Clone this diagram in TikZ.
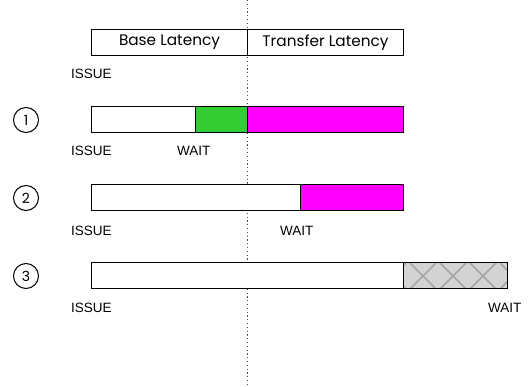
\documentclass[tikz,border=0pt]{standalone}
\usepackage{fontspec}
\setmainfont{Poppins}
\newfontfamily\lblfont{Liberation Sans}
\definecolor{grn}{HTML}{33CC33}
\definecolor{mag}{HTML}{FF00FF}
\definecolor{hgray}{HTML}{D3D3D3}
\begin{document}
\begin{tikzpicture}[x=1pt,y=-1pt,
  box/.style={draw=black,line width=1pt},
  hdr/.style={font=\fontsize{15.3}{17}\selectfont},
  lbl/.style={anchor=west,inner sep=0pt,font=\lblfont\fontsize{13.5}{15}\selectfont},
  num/.style={circle,draw=black,line width=1pt,minimum size=25pt,inner sep=0pt,font=\fontsize{14}{16}\selectfont},
  sep/.style={draw=black!70,line width=0.9pt,dash pattern=on 1.2pt off 2.6pt}]
\useasboundingbox (0,0) rectangle (528,387);
\coordinate (dtop) at (247,0);
\coordinate (dbot) at (247,387);
\draw[sep] (dtop) -- (dbot);
% header
\node[box,hdr,minimum width=156pt,minimum height=26pt,anchor=north west,inner sep=0pt] (base) at (91,29) {Base Latency};
\node[box,hdr,minimum width=156pt,minimum height=26pt,anchor=north west,inner sep=0pt] (xfer) at (247,29) {Transfer Latency};
\node[lbl] (i0) at (71,74) {ISSUE};
% row 1
\node[num] (n1) at (26,120) {1};
\filldraw[box,fill=white] (91,107) rectangle (195,133);
\filldraw[box,fill=grn] (195,107) rectangle (247,133);
\filldraw[box,fill=mag] (247,107) rectangle (403,133);
\node[lbl] (i1) at (71,151) {ISSUE};
\node[lbl] (w1) at (177,151) {WAIT};
% row 2
\node[num] (n2) at (26,198) {2};
\filldraw[box,fill=white] (91,185) rectangle (300,211);
\filldraw[box,fill=mag] (300,185) rectangle (403,211);
\node[lbl] (i2) at (71,231) {ISSUE};
\node[lbl] (w2) at (280,231) {WAIT};
% row 3
\node[num] (n3) at (26,276) {3};
\filldraw[box,fill=white] (91,263) rectangle (403,289);
\fill[hgray] (403,263) rectangle (507,289);
\begin{scope}
\clip (403,263) rectangle (507,289);
\foreach \c in {393,423,453,483,513}{
  \draw[black!35,line width=1.6pt] (\c-13,289) -- (\c+13,263);
  \draw[black!35,line width=1.6pt] (\c-13,263) -- (\c+13,289);
}
\end{scope}
\draw[box] (403,263) rectangle (507,289);
\node[lbl] (i3) at (71,308) {ISSUE};
\node[lbl] (w3) at (488,308) {WAIT};
\end{tikzpicture}
\end{document}
